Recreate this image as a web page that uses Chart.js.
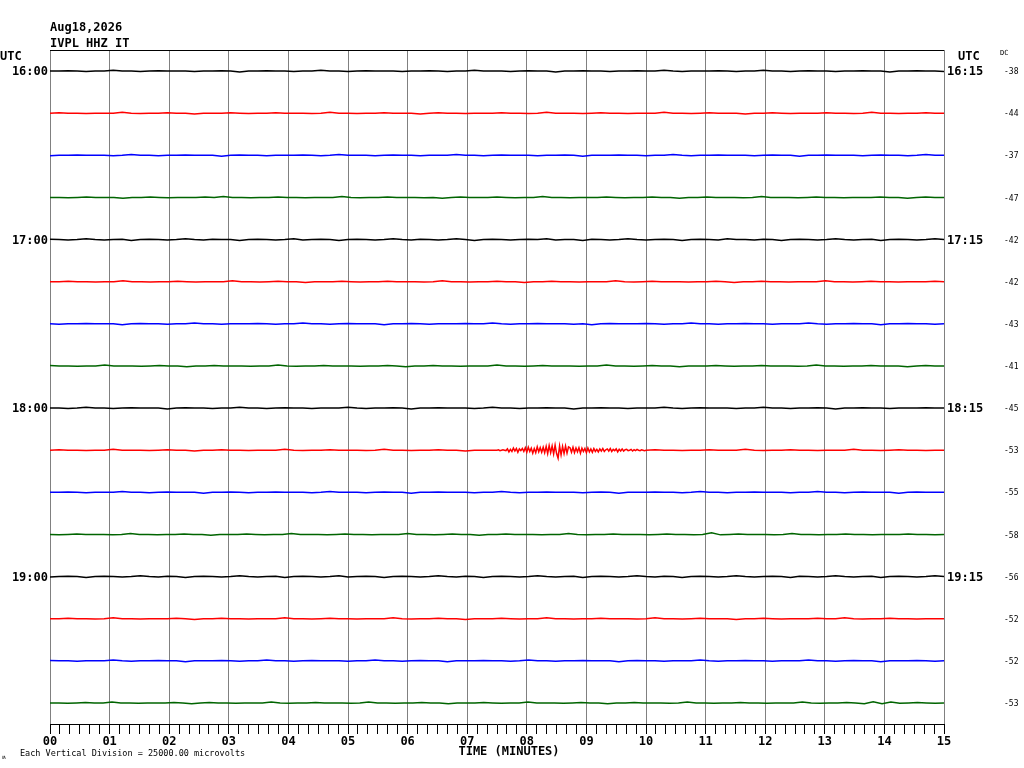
<!DOCTYPE html>
<html>
<head>
<meta charset="utf-8">
<title>IVPL HHZ IT helicorder</title>
<script src="https://cdn.jsdelivr.net/npm/chart.js@4.4.1/dist/chart.umd.min.js"></script>
<style>
  html, body { margin: 0; padding: 0; background: #fff; }
  #wrap { width: 1024px; height: 768px; }
</style>
</head>
<body>
<div id="wrap"><canvas id="heli" width="1024" height="768"></canvas></div>
<script>
// header texts
const dateLabel = 'Aug18,2026';
const stationLabel = 'IVPL HHZ IT';
const scaleNote = 'Each Vertical Division = 25000.00 microvolts';

// one trace = 15 minutes, 16 traces from 16:00 to 19:45 UTC
const leftHours = ['16:00', '17:00', '18:00', '19:00'];
const rightHours = ['16:15', '17:15', '18:15', '19:15'];
const dcValues = [-38, -44, -37, -47, -42, -42, -43, -41, -45, -53, -55, -58, -56, -52, -52, -53];
const traceColors = ['#000000', '#ff0000', '#0000ff', '#006400'];

// minutes on the x axis
const minuteLabels = ['00','01','02','03','04','05','06','07','08','09','10','11','12','13','14','15'];

// amplitudes in units of 250 microvolts (100 units = one vertical division)
const t0 = [0,0,1,0,-1,0,0,2,0,0,-1,0,1,0,0,0,-1,0,0,1,0,-2,0,0,1,0,0,-1,0,0,2,0,0,-1,0,1,0,0,0,-1,0,0,1,0,-1,0,0,2,0,0,0,-1,0,1,0,0,-2,0,0,1,0,0,-1,0,0,1,0,0,2,0,-1,0,0,0,1,0,-1,0,0,2,0,0,-1,0,1,0,0,-1,0,0,1,0,0,-2,0,0,1,0,0,-1];
const t1 = [0,1,0,0,-1,0,0,0,2,0,-1,0,0,1,0,0,-2,0,0,0,1,0,-1,0,0,1,0,0,0,-1,0,2,0,0,-1,0,0,1,0,0,0,-2,0,1,0,0,-1,0,0,0,1,0,0,-1,0,2,0,0,0,-1,0,1,0,0,-1,0,0,0,2,0,0,-1,0,1,0,0,0,-2,0,0,1,0,-1,0,0,0,1,0,0,-1,0,2,0,0,-1,0,0,1,0,0];
const t2 = [-1,0,0,1,0,0,0,-1,0,2,0,0,-1,0,0,1,0,0,0,-2,0,1,0,0,-1,0,0,0,1,0,-1,0,2,0,0,0,-1,0,1,0,0,-1,0,0,0,2,0,0,-1,0,1,0,0,0,-1,0,0,1,0,-2,0,0,0,1,0,0,-1,0,0,2,0,-1,0,0,1,0,0,0,-1,0,1,0,0,-2,0,0,1,0,0,0,-1,0,1,0,0,-1,0,2,0,0];
const t3 = [0,0,-1,0,1,0,0,0,-2,0,0,1,0,-1,0,0,0,1,0,2,0,0,-1,0,0,1,0,0,-1,0,0,0,2,0,-1,0,0,1,0,0,0,-1,0,-2,0,1,0,0,0,1,0,-1,0,0,2,0,0,-1,0,0,0,1,0,-1,0,0,1,0,0,-2,0,0,1,0,0,0,-1,0,2,0,0,0,-1,0,1,0,0,-1,0,0,0,1,0,0,-2,0,1,0,0];
const t4 = [1,0,-1,0,2,0,-1,0,1,-2,0,1,0,-1,0,2,0,-1,1,0,0,-2,0,1,0,-1,0,2,-1,0,1,0,-2,0,1,0,-1,0,2,0,-1,1,0,-1,0,2,0,-2,0,1,0,-1,0,1,0,2,-1,0,0,-2,1,0,-1,0,2,0,-1,0,1,0,-2,0,1,0,-1,2,0,0,-1,1,0,-2,0,1,0,-1,0,2,0,-1,0,1,-2,0,1,0,-1,0,2,0];
const t5 = [0,0,1,0,0,-1,0,0,2,0,0,-1,0,0,1,0,-1,0,0,0,2,0,0,-1,0,1,0,0,-2,0,0,0,1,0,-1,0,0,1,0,0,0,-1,0,2,0,0,-1,0,0,1,0,0,-2,0,0,1,0,0,-1,0,0,0,2,0,-1,0,1,0,0,0,-1,0,0,1,0,-2,0,0,1,0,0,-1,0,0,0,2,0,0,-1,0,1,0,0,-1,0,0,0,1,0];
const t6 = [0,-1,0,0,1,0,0,0,-2,0,1,0,0,-1,0,0,2,0,0,-1,0,0,0,1,0,-1,0,0,2,0,0,-1,0,1,0,0,0,-2,0,0,1,0,-1,0,0,0,1,0,0,2,0,-1,0,0,1,0,0,0,-1,0,-2,0,1,0,0,0,1,0,-1,0,0,2,0,0,-1,0,0,1,0,0,-1,0,0,0,2,0,-1,0,0,1,0,0,-2,0,0,1,0,0,-1,0];
const t7 = [1,0,0,-1,0,0,2,0,0,0,-1,0,1,0,0,-2,0,0,1,0,0,0,-1,0,0,2,0,-1,0,0,1,0,0,0,-1,0,0,1,0,-2,0,0,1,0,0,-1,0,0,0,2,0,0,-1,0,1,0,0,0,-1,0,0,2,0,0,-1,0,1,0,0,-2,0,0,0,1,0,-1,0,0,1,0,0,0,-1,0,2,0,0,-1,0,0,1,0,0,0,-2,0,1,0,0];
const t8 = [0,0,-1,0,2,0,0,-1,0,1,0,0,0,-2,0,1,0,0,-1,0,0,2,0,0,-1,0,1,0,0,-1,0,0,0,2,0,-1,0,0,1,0,-2,0,0,1,0,0,0,-1,0,2,0,0,-1,0,0,1,0,0,-2,0,0,1,0,0,-1,0,0,0,2,0,-1,0,1,0,0,0,-1,0,0,2,0,0,-1,0,0,1,0,-2,0,0,1,0,0,-1,0,0,0,1,0,0];
const t9 = [0,1,0,0,-1,0,0,2,0,0,0,-1,0,1,0,0,-2,0,0,1,0,0,-1,0,0,0,2,0,-1,0,0,1,0,0,0,-1,0,2,0,0,-1,0,0,1,0,0,-2,0,0,0,1,0,-1,0,0,2,0,0,-1,0,0,1,0,0,0,-2,0,1,0,0,-1,0,0,1,0,0,0,2,0,-1,0,0,1,0,0,-1,0,0,0,2,0,0,-1,0,1,0,0,-1,0,0];
const t10 = [0,0,1,0,-1,0,0,0,2,0,0,-1,0,1,0,0,0,-2,0,0,1,0,-1,0,0,1,0,0,0,-1,0,2,0,0,0,-1,0,1,0,0,-2,0,0,1,0,0,0,-1,0,0,2,0,-1,0,0,1,0,0,0,-1,0,1,0,-2,0,0,0,1,0,0,-1,0,2,0,0,-1,0,0,1,0,0,0,-1,0,0,2,0,0,-1,0,1,0,0,0,-2,0,1,0,0,0];
const t11 = [0,-1,0,1,0,0,0,-1,0,2,0,0,-1,0,0,1,0,0,-2,0,0,0,1,0,-1,0,0,2,0,0,0,-1,0,1,0,0,-1,0,0,0,2,0,0,-1,0,1,0,0,-2,0,0,1,0,0,0,-1,0,0,2,0,-1,0,0,1,0,0,0,-1,0,1,0,0,-1,0,4,-1,0,1,0,0,0,-1,0,2,0,0,-1,0,0,1,0,0,-1,0,0,0,1,0,0,-1,0];
const t12 = [-1,0,1,0,-2,0,1,0,-1,0,2,0,-1,1,0,-2,0,1,0,-1,0,2,0,-1,0,1,-2,0,1,0,-1,0,2,-1,0,1,0,-2,0,1,0,-1,0,2,0,-1,1,0,-2,0,1,0,-1,0,2,0,-1,0,1,-2,0,1,0,-1,0,2,0,-1,1,0,-2,0,1,0,-1,0,2,0,-1,0,1,0,-2,1,0,-1,0,2,0,-1,0,1,-2,0,1,0,-1,0,2,0];
const t13 = [0,0,1,0,0,-1,0,2,0,0,-1,0,0,0,1,0,-2,0,0,1,0,0,-1,0,0,0,2,0,0,-1,0,1,0,0,-1,0,0,0,2,0,-1,0,0,1,0,0,-2,0,0,0,1,0,-1,0,0,2,0,0,-1,0,0,1,0,0,0,-1,0,2,0,0,-1,0,1,0,0,0,-2,0,0,1,0,-1,0,0,0,1,0,0,2,0,-1,0,0,1,0,0,-1,0,0,0];
const t14 = [1,0,0,-1,0,0,0,2,0,-1,0,0,1,0,0,-2,0,0,0,1,0,-1,0,0,2,0,0,-1,0,1,0,0,0,-1,0,0,2,0,0,-1,0,1,0,0,-2,0,0,0,1,0,0,-1,0,2,0,0,-1,0,0,1,0,0,0,-2,0,1,0,0,-1,0,0,0,2,0,-1,0,0,1,0,0,-1,0,0,0,2,0,0,-1,0,1,0,0,-2,0,0,0,1,0,-1,0];
const t15 = [0,0,-1,0,1,0,0,2,0,0,-1,0,0,0,1,0,-2,0,1,0,0,-1,0,0,0,2,0,-1,0,0,1,0,0,0,-1,0,2,0,0,-1,0,0,1,0,0,-2,0,0,0,1,0,-1,0,0,2,0,0,0,-1,0,1,0,0,-2,0,0,1,0,0,0,-1,0,2,0,0,-1,0,0,1,0,0,-1,0,0,0,2,0,-1,0,0,1,0,-2,3,-2,2,-1,0,1,0,-1,0];
const traces = [t0, t1, t2, t3, t4, t5, t6, t7, t8, t9, t10, t11, t12, t13, t14, t15];

// local event on trace 10 (18:15-18:30), 7.5 to 10.0 min
const eventTrace = 9;
const eventStart = 7.5;
const eventEnd = 10.0;
const eventValues = [0,1,-1,0,1,0,-1,
  3,-4,2,-3,5,-2,4,-5,3,-1,4,-3,
  6,-5,7,-3,5,-7,4,-6,8,-4,6,-5,7,-6,
  9,-8,11,-6,10,-9,12,-8,-19,10,-11,9,-8,10,-7,8,
  6,-5,7,-6,5,-4,6,-7,5,-3,4,-6,5,-4,3,-5,
  4,-3,2,-4,3,-2,4,-3,1,3,-2,4,-3,2,-1,3,-4,2,-2,3,
  -2,1,2,-1,0,2,-2,1,-1,2,0,-1,1,0,-1,0];

const traceMinutes = 15;
const unitsPerDivision = 100;
const monoFont = '"DejaVu Sans Mono", "Liberation Mono", monospace';

function tracePoints(i) {
    let vals = traces[i];
    let step = traceMinutes / (vals.length - 1);
    let pts = [];
    for (let k = 0; k < vals.length; k++) {
        let t = k * step;
        if (i === eventTrace && t > eventStart && t < eventEnd) continue;
        pts.push({ x: t, y: -i + vals[k] / unitsPerDivision });
    }
    if (i === eventTrace) {
        let es = (eventEnd - eventStart) / (eventValues.length - 1);
        for (let k = 0; k < eventValues.length; k++) {
            pts.push({ x: eventStart + k * es, y: -i + eventValues[k] / unitsPerDivision });
        }
        pts.sort((a, b) => a.x - b.x);
    }
    return pts;
}

let datasets = [];
for (let i = 0; i < traces.length; i++) {
    datasets.push({
        data: tracePoints(i),
        borderColor: traceColors[i % traceColors.length],
        borderWidth: 1.5,
        pointRadius: 0,
        tension: 0,
        fill: false
    });
}

// 10 second ticks, labels on whole minutes
let timeTicks = [];
for (let k = 0; k <= traceMinutes * 6; k++) timeTicks.push(k / 6);
function isMinute(v) {
    return Math.abs(v - Math.round(v)) < 1e-6;
}

const helicorderText = {
    id: 'helicorderText',
    afterDraw(chart) {
        const ctx = chart.ctx;
        const a = chart.chartArea;
        const y = chart.scales.y;
        ctx.save();
        ctx.strokeStyle = '#000';
        ctx.lineWidth = 1;
        ctx.beginPath();
        ctx.moveTo(a.left, Math.round(a.top) + 0.5);
        ctx.lineTo(a.right, Math.round(a.top) + 0.5);
        ctx.stroke();

        ctx.fillStyle = '#000';
        ctx.font = 'bold 12px ' + monoFont;
        ctx.textAlign = 'left';
        ctx.textBaseline = 'alphabetic';
        ctx.fillText(dateLabel, a.left, a.top - 19);
        ctx.fillText(stationLabel, a.left, a.top - 3);

        ctx.textBaseline = 'middle';
        ctx.fillText('UTC', 0, a.top + 7);
        ctx.fillText('UTC', a.right + 14, a.top + 7);

        for (let h = 0; h < leftHours.length; h++) {
            let py = y.getPixelForValue(-h * 4) + 1;
            ctx.textAlign = 'right';
            ctx.fillText(leftHours[h], a.left - 2, py);
            ctx.textAlign = 'left';
            ctx.fillText(rightHours[h], a.right + 3, py);
        }

        ctx.font = '8px ' + monoFont;
        ctx.textAlign = 'left';
        for (let i = 0; i < dcValues.length; i++) {
            ctx.fillText(String(dcValues[i]), a.right + 60, y.getPixelForValue(-i) + 1);
        }
        ctx.font = '7px ' + monoFont;
        ctx.fillText('DC', a.right + 56, a.top + 3);

        ctx.font = 'bold 12px ' + monoFont;
        ctx.textAlign = 'center';
        ctx.fillText('TIME (MINUTES)', (a.left + a.right) / 2 + 12, a.bottom + 28);

        ctx.font = '8.5px ' + monoFont;
        ctx.textAlign = 'left';
        ctx.fillText(scaleNote, 20, a.bottom + 30);
        ctx.font = '6px ' + monoFont;
        ctx.fillText('\u028d', 2, a.bottom + 33);
        ctx.restore();
    }
};

new Chart(document.getElementById('heli'), {
    type: 'line',
    data: { datasets: datasets },
    options: {
        responsive: false,
        devicePixelRatio: 1,
        animation: false,
        layout: { padding: { left: 50, right: 80, top: 50, bottom: 0 } },
        plugins: {
            legend: { display: false },
            tooltip: { enabled: false }
        },
        scales: {
            x: {
                type: 'linear',
                min: 0,
                max: traceMinutes,
                afterBuildTicks: s => { s.ticks = timeTicks.map(v => ({ value: v })); },
                afterFit: s => { s.height = 44; },
                grid: {
                    color: c => (c.tick && isMinute(c.tick.value)) ? '#808080' : 'rgba(0,0,0,0)',
                    tickColor: '#000',
                    tickLength: 10,
                    lineWidth: 1
                },
                border: { display: true, color: '#000', width: 1 },
                ticks: {
                    autoSkip: false,
                    maxRotation: 0,
                    padding: 1,
                    color: '#000',
                    font: { family: monoFont, size: 12, weight: 'bold' },
                    callback: v => isMinute(v) ? minuteLabels[Math.round(v)] : ''
                }
            },
            y: {
                type: 'linear',
                display: false,
                min: -15.5,
                max: 0.5
            }
        }
    },
    plugins: [helicorderText]
});
</script>
</body>
</html>
